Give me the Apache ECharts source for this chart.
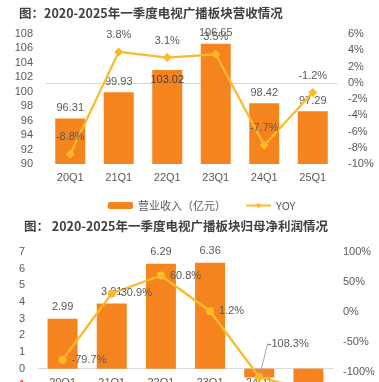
<!DOCTYPE html>
<html><head><meta charset="utf-8">
<script src="https://cdn.jsdelivr.net/npm/echarts@6/dist/echarts.min.js"></script>
<style>html,body{margin:0;padding:0;background:#fff;overflow:hidden}#c{width:379px;height:382px}</style>
</head><body><div id="c"></div>
<script>
const categories = ['20Q1','21Q1','22Q1','23Q1','24Q1','25Q1'];
const revenue = [96.31, 99.93, 103.02, 106.65, 98.42, 97.29];
const revenueYoy = [-8.8, 3.8, 3.1, 3.5, -7.7, -1.2];
const profit = [2.99, 3.91, 6.29, 6.36, -0.53, -0.9];
const profitYoy = [-79.7, 30.9, 60.8, 1.2, -108.3, -130];
const title1 = '图：2020-2025年一季度电视广播板块营收情况';
const title2 = '图： 2020-2025年一季度电视广播板块归母净利润情况';
const legendNames = ['营业收入（亿元）', 'YOY'];

const ORANGE = '#F5841F', GOLD = '#FBBA2A', TXT = '#595959';
const FONT = "'Liberation Sans','Noto Sans CJK SC',sans-serif";
const chart = echarts.init(document.getElementById('c'), null, {renderer:'canvas'});
const lbl = {color: TXT, fontSize: 11, fontFamily: FONT};
const pct = v => v.toFixed(1) + '%';

chart.setOption({
  animation: false,
  textStyle: {fontFamily: FONT},
  title: [
    {text: title1, left: 14, top: 2, textStyle: {fontSize: 12.5, fontWeight: 'bold', color: '#404040', fontFamily: "'Noto Sans CJK SC',sans-serif"}},
    {text: title2, left: 19, top: 215, textStyle: {fontSize: 12.5, fontWeight: 'bold', color: '#404040', fontFamily: "'Noto Sans CJK SC',sans-serif"}}
  ],
  legend: {
    data: legendNames, left: 103, top: 195, itemWidth: 25, itemHeight: 7, itemGap: 19,
    textStyle: {color: TXT, fontSize: 11, fontFamily: "'Noto Sans CJK SC',sans-serif"}
  },
  grid: [
    {left: 46, right: 42, top: 34, height: 130, outerBoundsMode: 'none', containLabel: false},
    {left: 38, right: 46, top: 252, height: 150, outerBoundsMode: 'none', containLabel: false}
  ],
  xAxis: [
    {type: 'category', gridIndex: 0, data: categories,
      axisLine: {lineStyle: {color: '#D9D9D9'}}, axisTick: {show: false},
      axisLabel: {color: TXT, fontSize: 11, margin: 8}},
    {type: 'category', gridIndex: 1, data: categories,
      axisLine: {onZero: true, onZeroAxisIndex: 2, lineStyle: {color: '#D9D9D9'}}, axisTick: {show: false},
      axisLabel: {color: TXT, fontSize: 11, margin: -25}}
  ],
  yAxis: [
    {type: 'value', gridIndex: 0, min: 90, max: 108, interval: 2, splitLine: {show: false},
      axisLabel: {color: TXT, fontSize: 11, margin: 13}},
    {type: 'value', gridIndex: 0, min: -10, max: 6, interval: 2, splitLine: {show: false},
      axisLabel: {color: TXT, fontSize: 11, margin: 11, formatter: '{value}%'}},
    {type: 'value', gridIndex: 1, min: -2, max: 7, interval: 1, splitLine: {show: false},
      axisLabel: {fontSize: 11, margin: 13, color: v => (v < 0 ? '#FF0000' : TXT)}},
    {type: 'value', gridIndex: 1, min: -150, max: 100, interval: 50, splitLine: {show: false},
      axisLabel: {color: TXT, fontSize: 11, margin: 10, formatter: '{value}%'}}
  ],
  series: [
    {name: legendNames[0], type: 'bar', xAxisIndex: 0, yAxisIndex: 0, barWidth: 30,
      itemStyle: {color: ORANGE},
      data: revenue.map((v, i) => i === 2 ? {value: v, label: {position: 'insideTop', distance: 5, color: '#404040'}} : v),
      label: Object.assign({show: true, position: 'top', distance: 5}, lbl)},
    {name: legendNames[1], type: 'line', xAxisIndex: 0, yAxisIndex: 1, z: 5,
      symbol: 'diamond', symbolSize: 9, lineStyle: {color: GOLD, width: 2.25}, itemStyle: {color: GOLD},
      data: revenueYoy,
      label: Object.assign({show: true, position: 'top', distance: 7, formatter: p => pct(p.value)}, lbl)},
    {name: '归母净利润（亿元）', type: 'bar', xAxisIndex: 1, yAxisIndex: 2, barWidth: 30,
      itemStyle: {color: ORANGE},
      data: profit.map(v => v < 0 ? {value: v, label: {position: 'bottom'}} : v),
      label: Object.assign({show: true, position: 'top', distance: 6}, lbl)},
    {name: '同比', type: 'line', xAxisIndex: 1, yAxisIndex: 3, z: 5,
      symbol: 'circle', symbolSize: 8, lineStyle: {color: GOLD, width: 2.25}, itemStyle: {color: GOLD},
      data: profitYoy.map((v, i) => i === 4 ? {value: v, label: {position: 'top'}, labelLine: {show: true, lineStyle: {color: '#A6A6A6', width: 1}}} : v),
      label: Object.assign({show: true, position: 'right', distance: 5, formatter: p => pct(p.value)}, lbl),
      labelLayout: p => (p.dataIndex === 4 ? {dx: 29, dy: -19} : {})}
  ]
});
</script></body></html>
